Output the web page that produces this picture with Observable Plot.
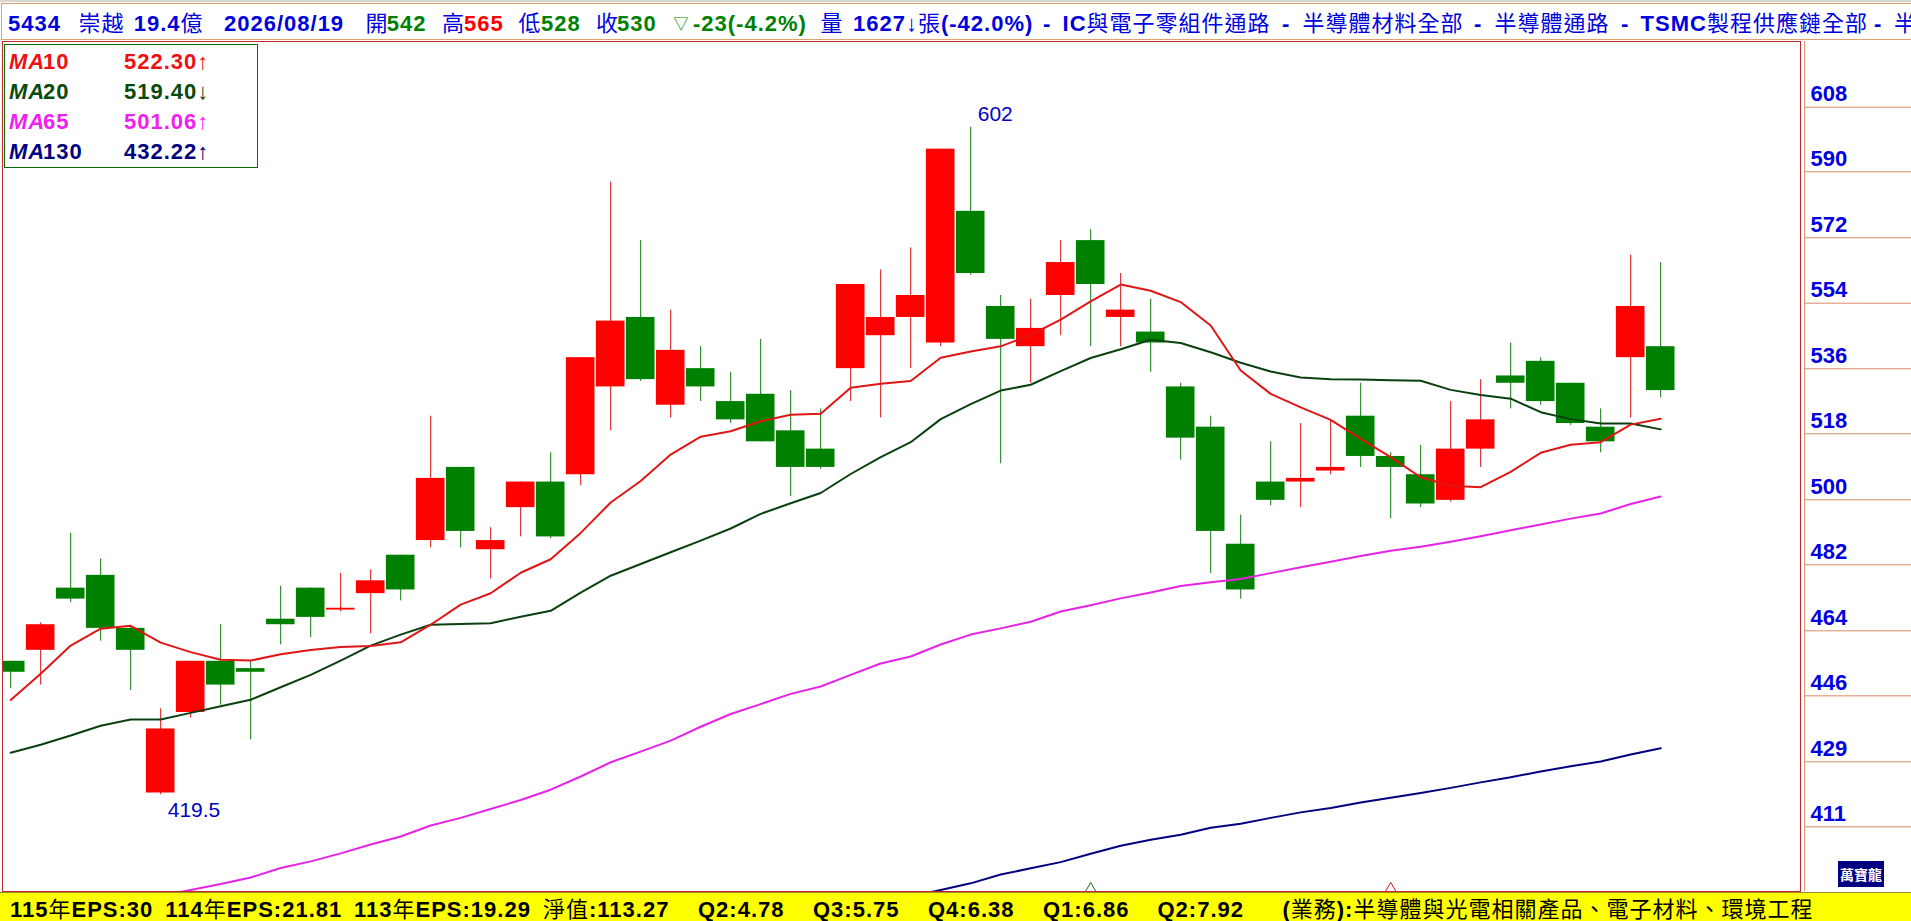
<!DOCTYPE html>
<html lang="zh-Hant">
<head>
<meta charset="utf-8">
<script src="https://cdn.jsdelivr.net/npm/d3@7"></script>
<script src="https://cdn.jsdelivr.net/npm/@observablehq/plot@0.6"></script>
<style>
html,body{margin:0;padding:0;background:#fff;overflow:hidden}
#page{position:relative;width:1911px;height:921px;overflow:hidden;background:#fff;font-family:"Liberation Sans","Noto Sans CJK TC",sans-serif}
#topbar{position:absolute;left:0;top:0;width:1911px;height:2px;background:#d8d4d0}
#head{position:absolute;left:1px;top:3px;width:1910px;height:35px;border:1px solid #e0a070;border-right:none;box-sizing:content-box}
.seg{position:absolute;white-space:pre;font-size:22px;letter-spacing:1px;line-height:30px}
.seg b{font-weight:700}
#chart{position:absolute;left:0;top:41px}
#foot{position:absolute;left:0;top:892px;width:1911px;height:29px;background:#ffff00;border-top:1px solid #a08a30;box-sizing:border-box;overflow:hidden}
#legend{position:absolute;left:4px;top:44px;width:254px;height:124px;border:1px solid #087008;background:#fff;box-sizing:border-box}
#logo{position:absolute;left:1838px;top:861px;width:46px;height:26px;background:#000080;color:#fff;font-size:14px;font-weight:700;line-height:26px;text-align:center;font-family:"Noto Sans CJK TC",sans-serif}
</style>
</head>
<body>
<div id="page">
  <div id="topbar"></div>
  <div id="head"></div>
  <div id="chart"></div>
  <div id="legend"></div>
  <div id="foot"></div>
  <div id="logo">萬寶龍</div>
</div>
<script>
// Candles, oldest to newest
const opens = [456,459,476,479.5,465,420,442,456,454,467.5,476,470,474.5,485,489,509,486.5,498,505,507,531,550,526,536,527,529,519,514,536,545,550,543,579,553,542,556,571,550,546,531,520,488,505,505,508,523,512,507,500,514,534,538,532,520,539,542];
const closes = [453,466,473,465,459,437.5,456,449.5,453,466,468,470.5,478,475.5,506,491.5,489,505,490,539,549,533,541,531,522,516,509,509,559,550,556,596,562,544,547,565,559,552,543,517,491.5,475.5,500,506,509,512,509,499,514,522,532,527,521,516,553,530];
const highs = [456,466.5,491,484,465.5,443,456,466,456,476.5,476,480,481,485,523,509,492.5,505,513,539,587,571,552,542,535,544,530,525,559,563,569,596,602,556,555,571,574,562,555,532,523,496,516,521,522,532,513,515,527,533,543,539,532,525,567,565];
const lows = [448.5,449.5,472,461.5,448,419.5,440.5,444,434.5,460.5,462.5,469.5,463.5,472.5,487,487,478.5,490,489.5,504,519,532.5,522.5,527,521,516,501,508.5,527,522.5,536,542,561.5,510,532,545,542,542,535,511,480,473,498.5,498,507,509,495,498,499.5,509,525,526,520.5,513,522.5,528];

// Moving averages
const ma10 = [445.4,452.6,460.3,464.9,465.7,461.1,458.5,456.4,456.2,457.9,459.1,459.9,460.2,461.2,466,471.5,474.6,480.2,483.9,491.1,499.4,505.3,512.5,517.4,518.9,521.6,523.4,523.7,530.8,531.9,532.6,539,540.7,542.1,545.2,549.4,554.4,559,557.3,554.2,547.8,535.5,529.1,525.4,522,516.8,511.8,506.3,504,503.6,507.8,513,515.2,515.9,520.7,522.3];
const ma20 = [431,433.2,435.7,438.4,440.1,440.1,441.9,443.7,445.5,448.9,452.3,456.2,460.3,463.3,466,466.2,466.4,468.2,469.8,474.8,479.4,482.6,485.8,489,492.3,496.3,499.2,502,507.2,511.8,515.9,522.2,526.3,530,531.6,535.3,538.9,541.3,543.9,543,540.5,537.6,535.2,533.6,533.1,533,532.8,532.7,530.2,528.8,527.8,524.1,522.2,521,521,519.4];
const ma65Start = 5;
const ma65 = [391.9,393.5,395.1,396.9,399.5,401.3,403.5,405.9,408.1,411.1,413.2,415.6,418.1,420.9,424.5,428.4,431.3,434.3,438.1,441.6,444.3,447.1,449.1,452.3,455.4,457.3,460.6,463.3,465,466.8,469.6,471.3,473.2,474.8,476.6,477.6,478.5,480.1,481.7,483.2,484.8,486.2,487.3,488.7,490.2,491.8,493.4,495,496.4,499,501.06];
const ma130Start = 30;
const ma130 = [391.7,393.5,395.3,397.7,399.4,401.1,403.4,405.6,407.2,408.6,410.5,411.6,413.2,414.7,415.9,417.4,418.7,420,421.4,422.9,424.3,425.9,427.3,428.6,430.5,432.22];

// Price axis
const tickValues = [607.47,589.8,571.77,553.89,535.96,518.19,500.15,482.38,464.33,446.56,428.52,410.75];
const tickLabels = ["608","590","572","554","536","518","500","482","464","446","429","411"];

// Markers on the bottom edge
const markerIndex = [36,46];
const markerColors = ["#1a6a1a","#e01010"];

// Extremes
const highMark = [{i:32,v:602,t:"602"}];
const lowMark = [{i:5,v:419.5,t:"419.5"}];

// Legend
const legendPrefix = "MA";
const legendPeriods = ["10","20","65","130"];
const legendValues = ["522.30↑","519.40↓","501.06↑","432.22↑"];
const legendColors = ["#ee1111","#0a4a0a","#ee22ee","#000080"];

// Text strips
const BLUE="#0000dd", GREEN="#008000", RED="#ff0000", BLACK="#000000";
const headerSegments = [
 [7,"5434",BLUE],[77.5,"崇越",BLUE],[132.7,"19.4億",BLUE],[223,"2026/08/19",BLUE],
 [364.5,"開",BLUE],[385.7,"542",GREEN],[441,"高",BLUE],[463,"565",RED],[517.5,"低",BLUE],[540,"528",GREEN],
 [595,"收",BLUE],[616,"530",GREEN],[672.6,"▽",GREEN,15],[692,"-23(-4.2%)",GREEN],[819.6,"量",BLUE],[852,"1627↓張(-42.0%)",BLUE],
 [1042,"-",BLUE],[1061.6,"IC與電子零組件通路",BLUE],[1281,"-",BLUE],[1301.6,"半導體材料全部",BLUE],
 [1473,"-",BLUE],[1493.4,"半導體通路",BLUE],[1620,"-",BLUE],[1639.6,"TSMC製程供應鏈全部",BLUE],[1873,"-",BLUE],[1893,"半",BLUE]
];
const footerSegments = [
 [10,"115年EPS:30"],[165.3,"114年EPS:21.81"],[354,"113年EPS:19.29"],[543,"淨值:113.27"],
 [698,"Q2:4.78"],[813,"Q3:5.75"],[928,"Q4:6.38"],[1043,"Q1:6.86"],[1157.5,"Q2:7.92"],
 [1282.4,"(業務):半導體與光電相關產品、電子材料、環境工程"]
];

function addSeg(parent,x,y,text,color,size){
  const s=document.createElement("div");
  s.className="seg";
  s.style.left=x+"px"; s.style.top=y+"px"; s.style.color=color;
  if(size) s.style.fontSize=size+"px";
  text.split(/([\x20-\x7e]+)/).forEach((part,k)=>{
    if(!part) return;
    if(k%2){const b=document.createElement("b");b.textContent=part;s.appendChild(b);}
    else s.appendChild(document.createTextNode(part));
  });
  parent.appendChild(s);
  return s;
}
const head=document.getElementById("head");
headerSegments.forEach(([x,t,c,z])=>addSeg(head,x-1,4.5,t,c,z));
const foot=document.getElementById("foot");
footerSegments.forEach(([x,t])=>addSeg(foot,x,1.5,t,BLACK));
const legend=document.getElementById("legend");
legendPeriods.forEach((p,k)=>{
  const y=2+k*30;
  const a=addSeg(legend,4,y,legendPrefix,legendColors[k]);
  a.style.fontStyle="italic";
  addSeg(legend,38,y,p,legendColors[k]);
  addSeg(legend,119,y,legendValues[k],legendColors[k]);
});

const candles = opens.map((o,i)=>({i,o,c:closes[i],h:highs[i],l:lows[i],col:closes[i]>=o?"#ff0000":"#008000",wick:closes[i]>=o?"#d81010":"#0a780a"}));
const series = (vals,start=0)=>vals.map((v,k)=>({i:k+start,v}));
const halfBody = 0.477;

const chart = Plot.plot({
  width:1911,height:850,
  marginTop:0,marginBottom:0,marginLeft:2,marginRight:111,
  x:{domain:[-0.2733,59.66],axis:null},
  y:{domain:[393.07,625.43],axis:null},
  style:{background:"#fff",overflow:"visible",fontFamily:"'Liberation Sans',sans-serif"},
  marks:[
    Plot.ruleX(candles,{x:"i",y1:"l",y2:"h",stroke:"wick",strokeWidth:1,clip:true}),
    Plot.rect(candles,{x1:d=>d.i-halfBody,x2:d=>d.i+halfBody,y1:"o",y2:"c",fill:"col",clip:true}),
    Plot.line(series(ma130,ma130Start),{x:"i",y:"v",stroke:"#000080",strokeWidth:2,clip:true}),
    Plot.line(series(ma65,ma65Start),{x:"i",y:"v",stroke:"#e622e6",strokeWidth:2,clip:true}),
    Plot.line(series(ma20),{x:"i",y:"v",stroke:"#0a4010",strokeWidth:2,clip:true}),
    Plot.line(series(ma10),{x:"i",y:"v",stroke:"#e01515",strokeWidth:2,clip:true}),
    Plot.text(highMark,{x:"i",y:"v",text:"t",dx:7,dy:-6,textAnchor:"start",lineAnchor:"bottom",fill:"#0000c0",fontSize:21}),
    Plot.text(lowMark,{x:"i",y:"v",text:"t",dx:7,dy:22.4,textAnchor:"start",lineAnchor:"bottom",fill:"#0000c0",fontSize:21}),
    Plot.dot(markerIndex,{x:d=>d,y:()=>393.9,symbol:"triangle",r:3.9,fill:"none",stroke:(d,k)=>markerColors[k],strokeWidth:1,clip:true}),
    Plot.frame({stroke:"#c02828",strokeWidth:1}),
    Plot.ruleX([59.8],{stroke:"#d98a66",strokeWidth:1}),
    Plot.ruleY(tickValues,{x1:59.8,x2:63.4,stroke:"#d98a66",strokeWidth:1}),
    Plot.axisY({anchor:"right",ticks:tickValues,tickSize:0,tickPadding:10,tickFormat:d=>tickLabels[tickValues.indexOf(d)],
      textAnchor:"start",lineAnchor:"bottom",dy:-6,fill:"#0000e0",fontSize:22,fontWeight:700,label:null})
  ]
});
document.getElementById("chart").appendChild(chart);
</script>
</body>
</html>
